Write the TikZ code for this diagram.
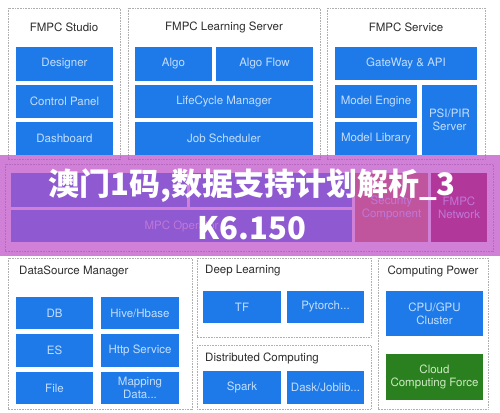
\documentclass[tikz,border=0pt]{standalone}
\usepackage{fontspec}
\setmainfont{TeX Gyre Heros}
\newfontfamily\cjk{Noto Sans CJK SC}
\definecolor{moduleblue}{RGB}{30,122,232}
\definecolor{moduletext}{RGB}{196,222,252}
\definecolor{cloudgreen}{RGB}{42,128,30}
\definecolor{cloudtext}{RGB}{205,235,195}
\definecolor{securityfill}{RGB}{200,110,60}
\definecolor{networkfill}{RGB}{150,10,50}
\definecolor{groupgray}{RGB}{175,175,175}
\definecolor{titlegray}{RGB}{45,45,45}
\definecolor{bannerpink}{RGB}{190,75,200}
\tikzstyle{group box}=[draw=groupgray, dash pattern=on 0.7pt off 0.9pt, line width=0.6pt]
\tikzstyle{group title}=[text=titlegray, inner sep=0pt, font=\fontsize{11.5}{13}\selectfont]
\tikzstyle{module}=[fill=moduleblue, text=moduletext, align=center, inner sep=0pt,
  font=\fontsize{11.5}{13}\selectfont]
\tikzstyle{banner text}=[text=white, inner sep=0pt, font=\cjk\bfseries\fontsize{31}{36}\selectfont]

\begin{document}
\begin{tikzpicture}[x=1pt, y=-1pt]
          \useasboundingbox[fill=white] (0, 0) rectangle (500, 412);

          % top row
          \draw[group box] (8, 8) rectangle (120, 159);
          \node[group title] (studio) at (64, 27) {FMPC Studio};
          \node[module, minimum width=97pt, minimum height=34pt] (designer) at (64.5, 64) {Designer};
          \node[module, minimum width=97pt, minimum height=33pt] (control) at (64.5, 101.5) {Control Panel};
          \node[module, minimum width=97pt, minimum height=33pt] (dashboard) at (64.5, 138.5) {Dashboard};

          \draw[group box] (128, 8) rectangle (320, 159);
          \node[group title] (learning) at (224, 27) {FMPC Learning Server};
          \node[module, minimum width=77pt, minimum height=34pt] (algo) at (173.5, 64) {Algo};
          \node[module, minimum width=97pt, minimum height=34pt] (algoflow) at (264.5, 64) {Algo Flow};
          \node[module, minimum width=178pt, minimum height=33pt] (lifecycle) at (224, 101.5) {LifeCycle Manager};
          \node[module, minimum width=178pt, minimum height=33pt] (scheduler) at (224, 138.5) {Job Scheduler};

          \draw[group box] (327, 8) rectangle (485, 159);
          \node[group title] (service) at (406, 27) {FMPC Service};
          \node[module, minimum width=142pt, minimum height=33pt] (gateway) at (406, 63.5) {GateWay \& API};
          \node[module, minimum width=82pt, minimum height=33pt] (engine) at (376, 101.5) {Model Engine};
          \node[module, minimum width=82pt, minimum height=33pt] (library) at (376, 138.5) {Model Library};
          \node[module, minimum width=55pt, minimum height=70pt] (psipir) at (449.5, 120) {PSI/PIR\\Server};

          % middle row
          \draw[group box] (5, 164) rectangle (493, 251);
          \node[module, minimum width=176pt, minimum height=34pt] (leftcell) at (99, 190) {};
          \node[module, minimum width=162pt, minimum height=34pt] (rightcell) at (271, 190) {};
          \node[module, minimum width=341pt, minimum height=32pt] (operator) at (181.5, 226) {MPC Operator};
          \node[module, fill=securityfill, minimum width=73pt, minimum height=69pt] (security) at (391.5, 207.5) {Security\\Component};
          \node[module, fill=networkfill, minimum width=56pt, minimum height=69pt] (network) at (459, 207.5) {FMPC\\Network};

          % bottom row
          \draw[group box] (8, 258) rectangle (192, 409);
          \node[group title, anchor=west] (datasource) at (19, 271) {DataSource Manager};
          \node[module, minimum width=77pt, minimum height=32pt] (db) at (54.5, 313) {DB};
          \node[module, minimum width=78pt, minimum height=32pt] (hive) at (140, 313) {Hive/Hbase};
          \node[module, minimum width=77pt, minimum height=33pt] (es) at (54.5, 350.5) {ES};
          \node[module, minimum width=78pt, minimum height=33pt] (http) at (140, 350.5) {Http Service};
          \node[module, minimum width=77pt, minimum height=32pt] (file) at (54.5, 388) {File};
          \node[module, minimum width=78pt, minimum height=32pt] (mapping) at (140, 388) {Mapping\\Data...};

          \draw[group box] (197, 258) rectangle (371, 337);
          \node[group title, anchor=west] (deep) at (205, 271) {Deep Learning};
          \node[module, minimum width=78pt, minimum height=32pt] (tf) at (242, 307) {TF};
          \node[module, minimum width=77pt, minimum height=32pt] (pytorch) at (325.5, 307) {Pytorch...};

          \draw[group box] (197, 345) rectangle (371, 409);
          \node[group title, anchor=west] (distributed) at (205, 358) {Distributed Computing};
          \node[module, minimum width=78pt, minimum height=33pt] (spark) at (242, 387.5) {Spark};
          \node[module, minimum width=77pt, minimum height=33pt] (dask) at (325.5, 387.5) {Dask/Joblib...};

          \draw[group box] (378, 258) rectangle (488, 409);
          \node[group title] (power) at (433, 271) {Computing Power};
          \node[module, minimum width=97pt, minimum height=45pt] (cluster) at (434.5, 313.5) {CPU/GPU\\Cluster};
          \node[module, fill=cloudgreen, text=cloudtext, minimum width=97pt, minimum height=46pt] (cloud) at (434.5, 377) {Cloud\\Computing Force};

          % banner
          \fill[bannerpink, opacity=0.7] (0, 155) rectangle (500, 256);
          \node[banner text] (bannerone) at (252, 186) {澳门1码,数据支持计划解析\_3};
          \node[banner text] (bannertwo) at (252, 228) {K6.150};
        \end{tikzpicture}
\end{document}
